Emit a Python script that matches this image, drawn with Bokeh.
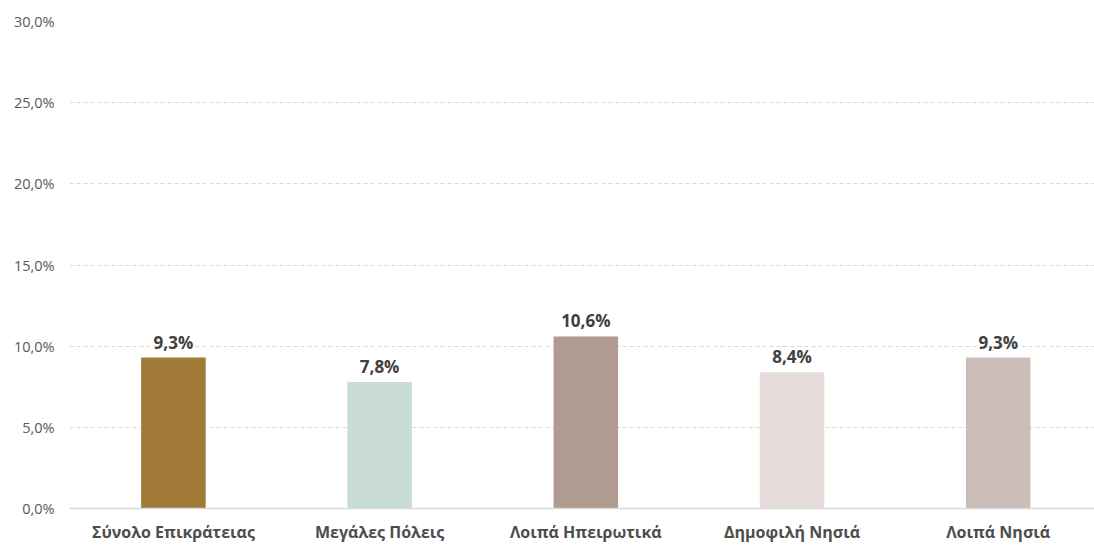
from bokeh.plotting import figure
from bokeh.models import ColumnDataSource, FixedTicker, CustomJSTickFormatter
from bokeh.core.properties import value
from bokeh.embed import file_html
from bokeh.resources import INLINE

categories = ["Σύνολο Επικράτειας", "Μεγάλες Πόλεις", "Λοιπά Ηπειρωτικά", "Δημοφιλή Νησιά", "Λοιπά Νησιά"]
values = [9.3, 7.8, 10.6, 8.4, 9.3]
colors = ["#A07A36", "#C9DCD7", "#B09B91", "#E6DDDA", "#CBBDB8"]
y_ticks = [0, 5, 10, 15, 20, 25, 30]

idx = list(range(len(categories)))
labels = [f"{v:.1f}".replace(".", ",") + "%" for v in values]

src = ColumnDataSource(dict(x=idx, top=values, color=colors, label=labels))

p = figure(width=1094, height=545, output_backend="svg", toolbar_location=None,
           x_range=(-0.504, 4.467), y_range=(0, 30),
           min_border_left=69, min_border_right=0, min_border_top=21, min_border_bottom=0)
p.outline_line_color = None
p.background_fill_color = "white"
p.border_fill_color = "white"

p.vbar(x="x", top="top", width=0.313, bottom=0, fill_color="color", line_color=None, source=src)
p.text(x="x", y="top", text="label", source=src, text_align="center", text_baseline="bottom",
       y_offset=-4, text_font=value("Open Sans"), text_font_style="bold",
       text_font_size="17px", text_color="#404040")

# x axis
p.xaxis.ticker = FixedTicker(ticks=idx)
p.xaxis.major_label_overrides = {i: c for i, c in zip(idx, categories)}
p.xaxis.major_tick_line_color = None
p.xaxis.major_tick_out = 0
p.xaxis.major_tick_in = 0
p.xaxis.minor_tick_line_color = None
p.xaxis.axis_line_color = "#D9D9D9"
p.xaxis.axis_line_width = 1.5
p.xaxis.major_label_text_font = "Open Sans"
p.xaxis.major_label_text_font_style = "bold"
p.xaxis.major_label_text_font_size = "16px"
p.xaxis.major_label_text_color = "#4D4D4D"
p.xaxis.major_label_standoff = 12

# y axis
p.yaxis.ticker = FixedTicker(ticks=y_ticks)
p.yaxis.formatter = CustomJSTickFormatter(code="return tick.toFixed(1).replace('.', ',') + '%';")
p.yaxis.major_tick_line_color = None
p.yaxis.major_tick_out = 0
p.yaxis.major_tick_in = 0
p.yaxis.minor_tick_line_color = None
p.yaxis.axis_line_color = None
p.yaxis.major_label_text_font = "Open Sans"
p.yaxis.major_label_text_font_size = "14.5px"
p.yaxis.major_label_text_color = "#595959"
p.yaxis.major_label_standoff = 15

p.xgrid.grid_line_color = None
p.ygrid.grid_line_color = "#D9D9D9"
p.ygrid.grid_line_dash = "4 3"
p.ygrid.grid_line_width = 1

open("out.html", "w").write(file_html(p, INLINE))
